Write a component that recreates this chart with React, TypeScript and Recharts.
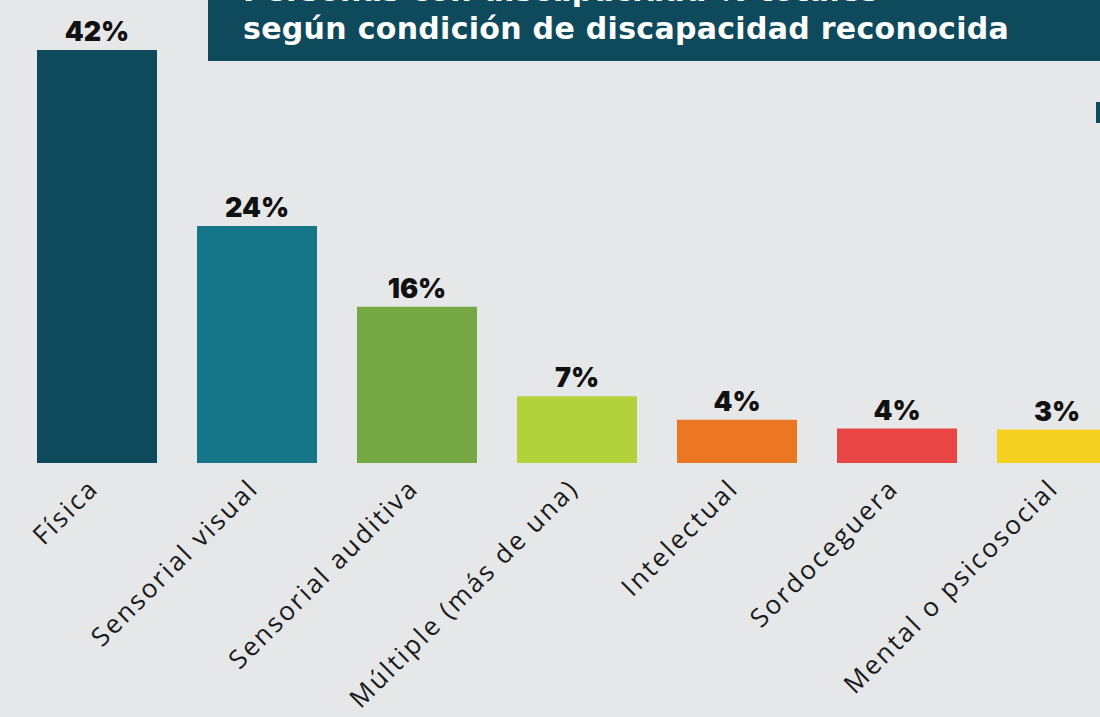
import { Bar, BarChart, Cell, LabelList, XAxis, YAxis } from "recharts";

const categories = [
  "Física",
  "Sensorial visual",
  "Sensorial auditiva",
  "Múltiple (más de una)",
  "Intelectual",
  "Sordoceguera",
  "Mental o psicosocial",
];
const values = [42, 24.1, 15.9, 6.8, 4.4, 3.5, 3.4];
const valueLabels = ["42%", "24%", "16%", "7%", "4%", "4%", "3%"];
const colors = ["#0f4a5c", "#157689", "#76a844", "#b2d13a", "#ec7723", "#e84644", "#f5d222"];

const data = categories.map((name, i) => ({
  name,
  value: values[i],
  label: valueLabels[i],
}));

const BG = "#e6e7e9";
const TEAL = "#0f4a5c";

function AngledTick({ x, y, payload }: any) {
  return (
    <g transform={`translate(${x + 3},${y + 19})`}>
      <text
        transform="rotate(-45)"
        textAnchor="end"
        fill="#1a1a1a"
        fontFamily="'Open Sans', sans-serif"
        fontSize={26}
        fontWeight={400}
        letterSpacing={2.3}
      >
        {payload.value}
      </text>
    </g>
  );
}

const titleLine = {
  position: "absolute" as const,
  left: 35,
  color: "#fff",
  fontFamily: "'DejaVu Sans', sans-serif",
  fontWeight: 700,
  fontSize: 30,
  lineHeight: "32px",
  letterSpacing: 0.3,
  whiteSpace: "nowrap" as const,
};

export default function App() {
  return (
    <div
      style={{
        position: "fixed",
        left: 0,
        top: 0,
        width: 1100,
        height: 717,
        overflow: "hidden",
        background: BG,
      }}
    >
      <BarChart
        width={1140}
        height={717}
        data={data}
        margin={{ top: 50, right: 3, bottom: 0, left: 17 }}
        barCategoryGap="12.5%"
      >
        <XAxis
          dataKey="name"
          height={254}
          axisLine={false}
          tickLine={false}
          interval={0}
          tick={<AngledTick />}
        />
        <YAxis hide domain={[0, 42]} />
        <Bar dataKey="value" isAnimationActive={false}>
          {data.map((d, i) => (
            <Cell key={d.name} fill={colors[i]} />
          ))}
          <LabelList
            dataKey="label"
            position="top"
            offset={9}
            fill="#111"
            fontFamily="Inter, sans-serif"
            fontWeight={900}
            fontSize={27}
          />
        </Bar>
      </BarChart>

      <div
        style={{
          position: "absolute",
          left: 208,
          top: 0,
          width: 900,
          height: 61,
          background: TEAL,
          overflow: "hidden",
        }}
      >
        <div style={{ ...titleLine, top: -25 }}>Personas con discapacidad % totales</div>
        <div style={{ ...titleLine, top: 13 }}>según condición de discapacidad reconocida</div>
      </div>

      <div
        style={{
          position: "absolute",
          left: 1096,
          top: 102,
          width: 4,
          height: 21,
          background: TEAL,
        }}
      />
    </div>
  );
}
